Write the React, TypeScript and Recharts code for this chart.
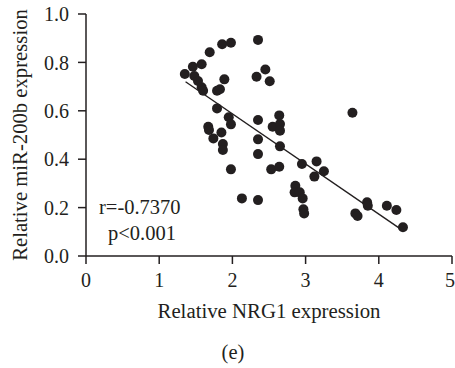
import { ReferenceLine, Scatter, ScatterChart, XAxis, YAxis } from 'recharts';

// values
const nrg1 = [
    1.35, 1.46, 1.58, 1.69, 1.86, 1.98, 2.35, 1.48, 1.53, 1.58, 1.6, 1.89, 1.79, 1.83, 1.79, 1.95, 1.98, 1.67, 1.68,
    1.74, 1.85, 1.87, 1.87, 1.98, 2.13, 2.35, 2.33, 2.45, 2.51, 3.64, 2.64, 2.35, 2.55, 2.65, 2.65, 2.35, 2.65, 2.35,
    2.53, 2.64, 2.95, 3.15, 3.25, 3.12, 2.86, 2.85, 2.92, 2.96, 2.97, 2.98, 3.68, 3.71, 3.84, 3.85, 4.11, 4.24, 4.33,
];
const mir200b = [
    0.752, 0.782, 0.792, 0.842, 0.875, 0.881, 0.893, 0.744, 0.723, 0.697, 0.683, 0.73, 0.683, 0.689, 0.61, 0.573, 0.544,
    0.534, 0.521, 0.486, 0.51, 0.463, 0.438, 0.358, 0.238, 0.231, 0.741, 0.771, 0.722, 0.592, 0.581, 0.562, 0.534, 0.545,
    0.518, 0.482, 0.453, 0.421, 0.358, 0.369, 0.38, 0.391, 0.35, 0.328, 0.29, 0.263, 0.263, 0.238, 0.193, 0.176, 0.176,
    0.165, 0.222, 0.208, 0.208, 0.19, 0.119,
];
const fitX = [1.36, 4.28];
const fitY = [0.72, 0.115];
const xTicks = [0, 1, 2, 3, 4, 5];
const yTicks = [0, 0.2, 0.4, 0.6, 0.8, 1.0];

const ink = '#231f20';
const font = '"Liberation Serif", "Times New Roman", serif';

const points = nrg1.map((x, i) => ({ x, y: mir200b[i] }));

const Dot = (props: any) => <circle cx={props.cx} cy={props.cy} r={5} fill={ink} />;

export default function App() {
    const tick = { fill: ink, fontSize: 20, fontFamily: font };
    const text = { fontFamily: font, fontSize: 20.5, lineHeight: '22px', color: ink };
    return (
        <div style={{ position: 'absolute', left: 0, top: 0, width: 455, height: 368, background: '#fff' }}>
            <ScatterChart width={455} height={368} margin={{ top: 14, right: 3, bottom: 42, left: 0 }}>
                <XAxis
                    type="number"
                    dataKey="x"
                    domain={[0, 5]}
                    ticks={xTicks}
                    tickSize={8}
                    tickMargin={9}
                    height={70}
                    tick={tick}
                    stroke={ink}
                    strokeWidth={1.5}
                    label={{
                        value: 'Relative NRG1 expression',
                        position: 'insideBottom',
                        offset: 8,
                        style: { fill: ink, fontSize: 20.8, fontFamily: font },
                    }}
                />
                <YAxis
                    type="number"
                    dataKey="y"
                    domain={[0, 1]}
                    ticks={yTicks}
                    tickFormatter={(v) => v.toFixed(1)}
                    tickSize={8}
                    tickMargin={9}
                    width={86}
                    tick={tick}
                    stroke={ink}
                    strokeWidth={1.5}
                    label={{
                        value: 'Relative miR-200b expression',
                        angle: -90,
                        position: 'insideLeft',
                        offset: 20,
                        style: { fill: ink, fontSize: 20.7, fontFamily: font, textAnchor: 'middle' },
                    }}
                />
                <ReferenceLine
                    segment={[
                        { x: fitX[0], y: fitY[0] },
                        { x: fitX[1], y: fitY[1] },
                    ]}
                    stroke={ink}
                    strokeWidth={1.4}
                />
                <Scatter data={points} shape={Dot} isAnimationActive={false} />
            </ScatterChart>
            <div style={{ ...text, position: 'absolute', left: 99, top: 196 }}>r=-0.7370</div>
            <div style={{ ...text, position: 'absolute', left: 108, top: 222 }}>p&lt;0.001</div>
            <div style={{ ...text, position: 'absolute', left: 183, top: 341, width: 100, textAlign: 'center' }}>(e)</div>
        </div>
    );
}
